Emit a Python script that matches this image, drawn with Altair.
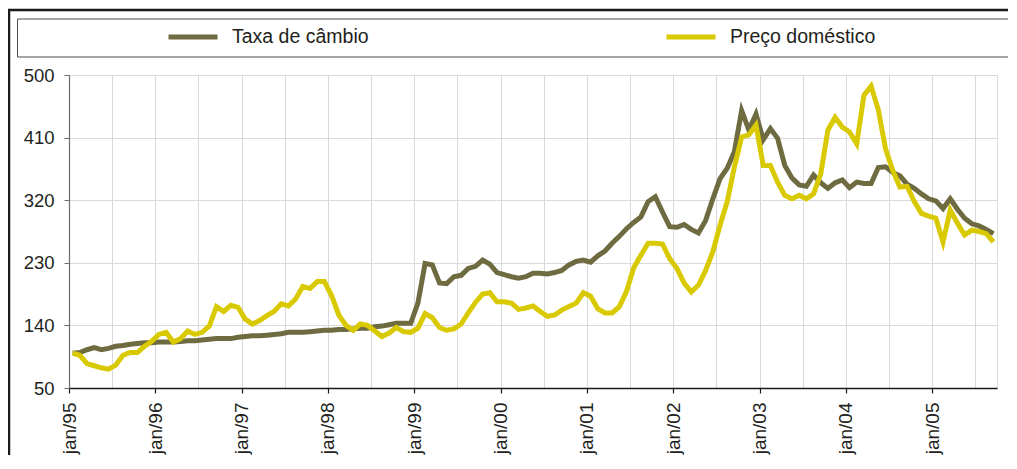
import altair as alt
import pandas as pd

# ---------------- data ----------------
series_names = ["Taxa de câmbio", "Preço doméstico"]
series_colors = ["#6e6b41", "#d9c900"]

tick_labels = ["jan/95", "jan/96", "jan/97", "jan/98", "jan/99", "jan/00",
               "jan/01", "jan/02", "jan/03", "jan/04", "jan/05"]
y_ticks = [50, 140, 230, 320, 410, 500]

# monthly index values, jan/95 .. sep/05
taxa_cambio = [
    100, 101, 105, 108, 105, 107, 110, 111, 113, 114,
    115, 115, 116, 116, 116, 117, 118, 118, 119, 120,
    121, 121, 121, 123, 124, 125, 125, 126, 127, 128,
    130, 130, 130, 131, 132, 133, 133, 134, 134, 135,
    136, 136, 138, 139, 141, 143, 143, 143, 172, 229,
    227, 201, 200, 210, 212, 222, 225, 234, 228, 216,
    213, 210, 208, 210, 215, 215, 214, 216, 219, 227,
    232, 234, 231, 240, 247, 258, 268, 279, 288, 296,
    318, 325, 303, 282, 281, 285, 278, 273, 291, 322,
    351, 366, 390, 449, 421, 444, 407, 423, 409, 370,
    352, 342, 340, 356, 345, 337, 345, 349, 338, 346,
    344, 344, 367, 368, 360, 355, 343, 337, 329, 322,
    319, 308, 322, 307, 294, 286, 283, 278, 272,
]
preco_domestico = [
    100, 97, 85, 82, 79, 77, 83, 97, 101, 101,
    110, 117, 127, 130, 116, 121, 132, 127, 130, 139,
    167, 160, 169, 166, 149, 142, 147, 154, 160, 171,
    168, 178, 196, 193, 203, 203, 183, 155, 140, 133,
    142, 140, 132, 124, 129, 137, 131, 130, 136, 157,
    151, 137, 133, 135, 142, 158, 173, 185, 187, 174,
    174, 172, 163, 165, 168, 160, 153, 155, 162, 167,
    172, 187, 182, 164, 158, 158, 167, 189, 223, 241,
    258, 258, 257, 236, 222, 201, 188, 198, 219, 246,
    284, 318, 368, 411, 414, 428, 370, 370, 346, 327,
    322, 327, 322, 329, 358, 421, 439, 425, 418, 401,
    471, 484, 450, 394, 363, 339, 340, 318, 301, 297,
    294, 260, 306, 287, 270, 277, 275, 272, 260,
]

n = len(taxa_cambio)
df = pd.DataFrame({
    "mes": list(range(n)) * 2,
    "valor": taxa_cambio + preco_domestico,
    "serie": [series_names[0]] * n + [series_names[1]] * n,
})

FONT = "Liberation Sans"
TXT = "#231f20"
GRID = "#d9d9d9"

# category boundaries every 6 months (grid), labels at January only
grid_values = [-0.5 + 6 * i for i in range(2 * len(tick_labels))]
labels_js = "[" + ",".join("'" + t + "'" for t in tick_labels) + "]"
label_expr = "(datum.value + 0.5) % 12 == 0 ? " + labels_js + "[(datum.value + 0.5) / 12] : ''"

x_enc = alt.X(
    "mes:Q",
    scale=alt.Scale(domain=[-0.5, n - 0.5], nice=False, zero=False),
    axis=alt.Axis(
        title=None, values=grid_values, labelExpr=label_expr,
        labelAngle=270, labelFont=FONT, labelFontSize=19, labelColor=TXT,
        labelPadding=9, labelOverlap=False, labelFlush=False, labelBound=False,
        grid=True, gridColor=GRID, gridWidth=1,
        domainColor="#1a1a1a", domainWidth=1.5,
        tickColor="#1a1a1a", tickSize=5, tickWidth=1.2,
        tickOpacity={"condition": {"test": "(datum.value + 0.5) % 12 != 0", "value": 0}, "value": 1},
    ),
)
y_enc = alt.Y(
    "valor:Q",
    scale=alt.Scale(domain=[50, 500], nice=False, zero=False),
    axis=alt.Axis(
        title=None, values=y_ticks, labelFont=FONT, labelFontSize=18.5,
        labelColor=TXT, labelPadding=10, grid=True, gridColor=GRID, gridWidth=1,
        domainColor="#6d6d6d", domainWidth=1.2, tickColor="#6d6d6d", tickSize=5,
    ),
)
color_enc = alt.Color(
    "serie:N",
    scale=alt.Scale(domain=series_names, range=series_colors),
    legend=alt.Legend(
        title=None, orient="none", legendX=97, legendY=-65, direction="horizontal",
        symbolType="stroke", symbolSize=2401, symbolStrokeWidth=5,
        labelFont=FONT, labelFontSize=19.5, labelColor=TXT, labelOffset=12,
        labelLimit=400, columnPadding=287, padding=0,
    ),
)

base = alt.Chart(df)
line_taxa = base.transform_filter(alt.datum.serie == series_names[0]).mark_line(
    strokeWidth=5).encode(x=x_enc, y=y_enc, color=color_enc)
line_preco = base.transform_filter(alt.datum.serie == series_names[1]).mark_line(
    strokeWidth=5).encode(x=x_enc, y=y_enc, color=color_enc)

deco = alt.Chart(pd.DataFrame({"d": [0]}))
frame_top = deco.mark_rule(color="#1a1a1a", strokeWidth=2.5).encode(
    x=alt.value(-61), x2=alt.value(1000), y=alt.value(-65))
frame_left = deco.mark_rule(color="#1a1a1a", strokeWidth=2.5).encode(
    x=alt.value(-60), y=alt.value(-66), y2=alt.value(500))
legend_box = deco.mark_rect(fillOpacity=0, stroke="#4d4d4d", strokeWidth=1).encode(
    x=alt.value(-51.5), x2=alt.value(939.5), y=alt.value(-56), y2=alt.value(-18))

chart = alt.layer(frame_top, frame_left, legend_box, line_taxa, line_preco).properties(
    width=928, height=313,
    autosize=alt.AutoSizeParams(type="none"),
    padding={"left": 61, "top": 67, "right": 11, "bottom": 67},
).configure_view(stroke=None).configure(background="white")

chart.save("out.html", embed_options={"renderer": "svg", "actions": False})
